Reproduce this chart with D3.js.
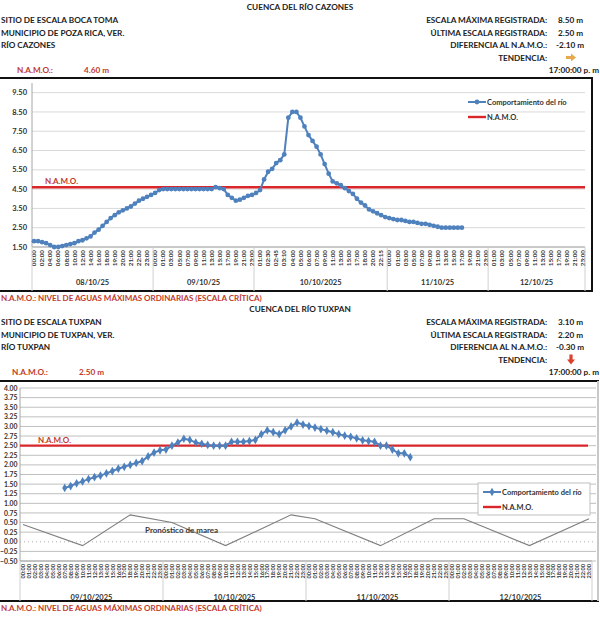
<!DOCTYPE html>
<html>
<head>
<meta charset="utf-8">
<script src="https://cdn.jsdelivr.net/npm/d3@7"></script>
<style>
    body { margin: 0; background: #fff; overflow: hidden; }
    svg { display: block; font-family: Lato, "Open Sans", sans-serif; }
    .hd { font-size: 8.2px; font-weight: bold; fill: #222; }
    .tick-y { font-size: 7.5px; font-weight: bold; fill: #333; }
    .tick-x { font-size: 6.3px; font-weight: bold; fill: #333; }
    .day { font-size: 7.5px; font-weight: bold; fill: #333; }
    .legend { font-size: 7.5px; font-weight: bold; fill: #333; }
    .note { font-size: 8px; font-weight: bold; fill: #c0392b; }
</style>
</head>
<body>
<div id="chart"></div>
<script>
// ---- Cuenca del río Cazones (Boca Toma) ----
var cazonesTitle = 'CUENCA DEL RÍO CAZONES';
var cazonesSite = ['SITIO DE ESCALA BOCA TOMA', 'MUNICIPIO DE POZA RICA, VER.', 'RÍO CAZONES'];
var cazonesStats = ['8.50 m', '2.50 m', '-2.10 m'];
var cazonesNamo = 4.60;
var cazonesDays = ['08/10/25', '09/10/25', '10/10/2025', '11/10/25', '12/10/25'];
var cazonesTimes = [
    ['00:00', '01:00', '02:00', '03:00', '04:00', '05:00', '06:00', '07:00', '08:00', '09:00', '10:00', '11:00',
     '12:00', '13:00', '14:00', '15:00', '16:00', '17:00', '18:00', '18:30', '19:00', '19:30', '20:00', '20:30',
     '21:00', '21:30', '22:00', '22:30', '23:00', '23:30'],
    ['00:00', '00:30', '01:00', '02:00', '03:00', '04:00', '05:00', '06:00', '07:00', '08:00', '09:00', '10:00',
     '11:00', '12:00', '13:00', '14:00', '15:00', '16:00', '17:00', '18:00', '19:00', '20:00', '21:00', '22:00', '23:00'],
    ['00:00', '01:00', '02:00', '02:30', '02:40', '02:45', '03:00', '03:10', '03:30', '04:00', '04:30', '05:00',
     '05:30', '06:00', '06:30', '07:00', '08:00', '09:00', '10:00', '11:00', '12:00', '13:00', '14:00', '15:00',
     '16:00', '17:00', '17:30', '18:00', '19:00', '20:00', '21:00', '22:15', '23:00'],
    ['00:00', '00:30', '01:00', '02:00', '03:00', '04:00', '05:00', '06:00', '07:00', '08:00', '09:00', '10:00',
     '11:00', '12:00', '13:00', '14:00', '15:00', '16:00', '17:00', '18:00', '19:00', '20:00', '21:00', '22:00', '23:00'],
    ['00:00', '01:00', '02:00', '03:00', '04:00', '05:00', '06:00', '07:00', '08:00', '09:00', '10:00', '11:00',
     '12:00', '13:00', '14:00', '15:00', '16:00', '17:00', '18:00', '19:00', '20:00', '21:00', '22:00', '23:00']
];
var cazonesLevels = [
    1.80, 1.80, 1.75, 1.70, 1.60, 1.50, 1.50, 1.55, 1.60, 1.65, 1.70, 1.80, 1.85, 1.95, 2.05, 2.25,
    2.40, 2.60, 2.80, 3.00, 3.15, 3.30, 3.40, 3.50, 3.60, 3.75, 3.90, 4.00, 4.10, 4.20, 4.30, 4.45,
    4.50, 4.50, 4.50, 4.50, 4.50, 4.50, 4.50, 4.50, 4.50, 4.50, 4.50, 4.50, 4.50, 4.60, 4.55, 4.50,
    4.20, 4.05, 3.90, 3.95, 4.05, 4.15, 4.20, 4.30, 4.45, 5.00, 5.40, 5.55, 5.85, 6.00, 6.30, 8.20,
    8.50, 8.50, 8.20, 7.75, 7.30, 7.00, 6.70, 6.30, 5.80, 5.30, 4.90, 4.80, 4.70, 4.55, 4.40, 4.25,
    4.00, 3.80, 3.65, 3.45, 3.35, 3.25, 3.15, 3.05, 3.00, 2.95, 2.90, 2.90, 2.85, 2.80, 2.80, 2.75,
    2.70, 2.70, 2.65, 2.60, 2.55, 2.50, 2.50, 2.50, 2.50, 2.50, 2.50
];
var cazonesTicks = [1.50, 2.50, 3.50, 4.50, 5.50, 6.50, 7.50, 8.50, 9.50];

// ---- Cuenca del río Tuxpan ----
var tuxpanTitle = 'CUENCA DEL RÍO TUXPAN';
var tuxpanSite = ['SITIO DE ESCALA TUXPAN', 'MUNICIPIO DE TUXPAN, VER.', 'RÍO TUXPAN'];
var tuxpanStats = ['3.10 m', '2.20 m', '-0.30 m'];
var tuxpanNamo = 2.50;
var tuxpanDays = ['09/10/2025', '10/10/2025', '11/10/2025', '12/10/2025'];
var tuxpanHours = ['00:00', '01:00', '02:00', '03:00', '04:00', '05:00', '06:00', '07:00', '08:00', '09:00',
    '10:00', '11:00', '12:00', '13:00', '14:00', '15:00', '16:00', '17:00', '18:00', '19:00', '20:00',
    '21:00', '22:00', '23:00'];
var tuxpanLevels = [
    null, null, null, null, null, null, null, 1.40, 1.45, 1.52, 1.57, 1.63, 1.68, 1.72, 1.78, 1.84,
    1.90, 1.95, 2.00, 2.05, 2.10, 2.22, 2.32, 2.38, 2.40, 2.50, 2.58, 2.68, 2.65, 2.58, 2.55, 2.52,
    2.50, 2.50, 2.50, 2.60, 2.60, 2.60, 2.62, 2.65, 2.80, 2.90, 2.85, 2.80, 2.90, 3.00, 3.10, 3.05,
    3.01, 2.97, 2.93, 2.89, 2.85, 2.80, 2.76, 2.73, 2.69, 2.64, 2.62, 2.60, 2.50, 2.50, 2.40, 2.30,
    2.30, 2.20
];
var tideAt = ['09/10/2025 00:00', '09/10/2025 10:00', '09/10/2025 18:00', '10/10/2025 01:00',
    '10/10/2025 10:00', '10/10/2025 21:00', '11/10/2025 01:00', '11/10/2025 12:00', '11/10/2025 21:00',
    '12/10/2025 02:00', '12/10/2025 13:00', '12/10/2025 23:00'];
var tideLevels = [0.45, -0.10, 0.70, 0.50, -0.10, 0.70, 0.60, -0.10, 0.60, 0.60, -0.10, 0.60];
var tuxpanTicks = [-0.50, -0.25, 0.00, 0.25, 0.50, 0.75, 1.00, 1.25, 1.50, 1.75, 2.00, 2.25, 2.50,
    2.75, 3.00, 3.25, 3.50, 3.75, 4.00];

var statLabels = ['ESCALA MÁXIMA REGISTRADA:', 'ÚLTIMA ESCALA REGISTRADA:', 'DIFERENCIA AL N.A.M.O.:'];
var noteText = 'N.A.M.O.: NIVEL DE AGUAS MÁXIMAS ORDINARIAS (ESCALA CRÍTICA)';

(function () {
    "use strict";

    var blue = '#4f81bd';
    var red = '#d9262b';
    var darkRed = '#c0392b';
    var fmt = d3.format('.2f');

    var svg = d3.select('#chart').append('svg')
        .attr('width', 600)
        .attr('height', 633);

    function drawHeader(g, cfg) {
        var top = cfg.top;
        g.append('text').attr('class', 'hd')
            .attr('x', 300).attr('y', top + 10)
            .attr('text-anchor', 'middle')
            .text(cfg.title);

        cfg.site.forEach(function (t, i) {
            g.append('text').attr('class', 'hd')
                .attr('x', cfg.leftX).attr('y', top + 23 + i * 12.5)
                .text(t);
        });

        statLabels.forEach(function (t, i) {
            var y = top + 23 + i * 12.5;
            g.append('text').attr('class', 'hd')
                .attr('x', 547).attr('y', y)
                .attr('text-anchor', 'end')
                .text(t);
            g.append('text').attr('class', 'hd')
                .attr('x', cfg.statX[i]).attr('y', y)
                .text(cfg.stats[i]);
        });

        var ty = top + 23 + 3 * 12.5;
        g.append('text').attr('class', 'hd')
            .attr('x', 547).attr('y', ty)
            .attr('text-anchor', 'end')
            .text('TENDENCIA:');
        var arrow = g.append('g').attr('transform', 'translate(571,' + (ty - 3) + ')');
        if (cfg.trend === 'right') {
            arrow.append('path').attr('d', 'M-5,-1.5 L0,-1.5 L0,-4 L5,0 L0,4 L0,1.5 L-5,1.5 Z')
                .attr('fill', '#e7a94b');
        } else {
            arrow.append('path').attr('d', 'M-1.6,-5 L1.6,-5 L1.6,0 L4,0 L0,5 L-4,0 L-1.6,0 Z')
                .attr('fill', '#d9412b');
        }

        var ny = top + 23 + 4 * 12.5;
        g.append('text').attr('class', 'hd')
            .attr('x', cfg.namoX).attr('y', ny)
            .style('fill', darkRed)
            .text('N.A.M.O.:');
        g.append('text').attr('class', 'hd')
            .attr('x', cfg.namoX + 67).attr('y', ny)
            .style('fill', darkRed)
            .text(fmt(cfg.namo) + ' m');
        g.append('text').attr('class', 'hd')
            .attr('x', 599).attr('y', ny)
            .attr('text-anchor', 'end')
            .text('17:00:00 p. m');
    }

    function drawPlot(g, cfg) {
        var cats = [];
        cfg.days.forEach(function (d, di) {
            cfg.times[di].forEach(function (t) {
                cats.push({ day: d, time: t, key: d + ' ' + t });
            });
        });

        var x = d3.scaleBand()
            .domain(cats.map(function (c) { return c.key; }))
            .range([cfg.x0, cfg.x1]);
        var cx = function (key) { return x(key) + x.bandwidth() / 2; };
        var y = d3.scaleLinear()
            .domain(cfg.yDomain)
            .range([cfg.yBottom, cfg.yTop]);

        // frame
        g.append('line')
            .attr('x1', -5).attr('x2', cfg.frameRight + 1)
            .attr('y1', cfg.frameTop).attr('y2', cfg.frameTop)
            .attr('stroke', '#111').attr('stroke-width', 2);
        g.append('line')
            .attr('x1', -5).attr('x2', cfg.frameRight + 1)
            .attr('y1', cfg.frameBottom).attr('y2', cfg.frameBottom)
            .attr('stroke', '#111').attr('stroke-width', 2);
        g.append('line')
            .attr('x1', cfg.frameRight).attr('x2', cfg.frameRight)
            .attr('y1', cfg.frameTop).attr('y2', cfg.frameBottom)
            .attr('stroke', cfg.frameRightColor).attr('stroke-width', 2);

        // grid
        g.append('g').selectAll('line')
            .data(cfg.ticks)
            .enter().append('line')
            .attr('x1', cfg.x0).attr('x2', cfg.gridEnd)
            .attr('y1', function (d) { return y(d); })
            .attr('y2', function (d) { return y(d); })
            .attr('stroke', function (d) { return d === 0 ? '#c8c8c8' : cfg.gridColor; })
            .attr('stroke-width', function (d) { return d === 0 ? 1.6 : 1; })
            .attr('stroke-dasharray', function (d) { return d === 0 ? '1,3' : null; });

        g.append('g').selectAll('text')
            .data(cfg.ticks)
            .enter().append('text')
            .attr('class', 'tick-y')
            .attr('x', cfg.x0 - cfg.tickGap)
            .attr('y', function (d) { return y(d) + 2.6; })
            .attr('text-anchor', 'end')
            .style('font-size', cfg.yFont + 'px')
            .text(function (d) { return fmt(d); });

        // axes
        g.append('line')
            .attr('x1', cfg.x0).attr('x2', cfg.x0)
            .attr('y1', cfg.axisTop).attr('y2', cfg.yBottom)
            .attr('stroke', '#a6a6a6');
        g.append('line')
            .attr('x1', cfg.x0).attr('x2', cfg.x1)
            .attr('y1', cfg.yBottom).attr('y2', cfg.yBottom)
            .attr('stroke', '#a6a6a6');

        // category labels
        g.append('g').selectAll('text')
            .data(cats.filter(function (c, i) { return i % cfg.labelEvery === 0; }))
            .enter().append('text')
            .attr('class', 'tick-x')
            .attr('transform', function (c) {
                return 'translate(' + (cx(c.key) + 2.2) + ',' + (cfg.yBottom + 3) + ') rotate(-90)';
            })
            .attr('text-anchor', 'end')
            .style('font-size', cfg.xFont + 'px')
            .text(function (c) { return c.time; });

        // day groups
        var bounds = cfg.days.map(function (d, di) {
            return x(d + ' ' + cfg.times[di][0]);
        });
        bounds.push(cfg.x1);
        g.append('g').selectAll('line')
            .data(bounds)
            .enter().append('line')
            .attr('x1', function (b) { return b; })
            .attr('x2', function (b) { return b; })
            .attr('y1', cfg.yBottom).attr('y2', cfg.frameBottom)
            .attr('stroke', '#d0d0d0');
        g.append('g').selectAll('text')
            .data(cfg.days)
            .enter().append('text')
            .attr('class', 'day')
            .attr('x', function (d, i) { return (bounds[i] + bounds[i + 1]) / 2; })
            .attr('y', cfg.dayY)
            .attr('text-anchor', 'middle')
            .text(function (d) { return d; });

        // tide forecast
        if (cfg.tideAt) {
            g.append('path')
                .datum(cfg.tideAt.map(function (k, i) { return [cx(k), y(cfg.tide[i])]; }))
                .attr('d', d3.line())
                .attr('fill', 'none')
                .attr('stroke', '#7f7f7f')
                .attr('stroke-width', 1.1);
            g.append('text')
                .attr('x', 145).attr('y', y(0.22))
                .style('font-size', '8px').style('font-weight', 'bold').style('fill', '#3a3a3a')
                .text('Pronóstico de marea');
        }

        // N.A.M.O.
        g.append('line')
            .attr('x1', cfg.x0).attr('x2', cfg.namoEnd)
            .attr('y1', y(cfg.namo)).attr('y2', y(cfg.namo))
            .attr('stroke', red).attr('stroke-width', 2.4);
        g.append('text')
            .attr('x', cfg.namoLabelX).attr('y', y(cfg.namo) - 3)
            .style('font-size', '8px').style('font-weight', 'bold').style('fill', darkRed)
            .text('N.A.M.O.');

        // river level
        var pts = cfg.levels.map(function (v, i) { return { key: cats[i].key, v: v }; })
            .filter(function (p) { return p.v !== null; });
        g.append('path')
            .datum(pts)
            .attr('d', d3.line()
                .x(function (p) { return cx(p.key); })
                .y(function (p) { return y(p.v); }))
            .attr('fill', 'none')
            .attr('stroke', blue)
            .attr('stroke-width', 2);
        var sym = d3.symbol().type(cfg.marker).size(cfg.markerSize);
        g.append('g').selectAll('path')
            .data(pts)
            .enter().append('path')
            .attr('transform', function (p) { return 'translate(' + cx(p.key) + ',' + y(p.v) + ')'; })
            .attr('d', sym)
            .attr('fill', blue);

        // legend
        var lg = g.append('g').attr('transform', 'translate(' + cfg.legend[0] + ',' + cfg.legend[1] + ')');
        if (cfg.legendBox) {
            lg.append('rect')
                .attr('x', -5).attr('y', -9)
                .attr('width', 112).attr('height', 32)
                .attr('fill', '#fff').attr('stroke', '#bfbfbf');
        }
        lg.append('line').attr('x1', 0).attr('x2', 18).attr('y1', 0).attr('y2', 0)
            .attr('stroke', blue).attr('stroke-width', 2);
        lg.append('path').attr('transform', 'translate(9,0)').attr('d', sym).attr('fill', blue);
        lg.append('text').attr('class', 'legend').attr('x', 19).attr('y', 2.6).text('Comportamiento del río');
        lg.append('line').attr('x1', 0).attr('x2', 18).attr('y1', 15).attr('y2', 15)
            .attr('stroke', red).attr('stroke-width', 2.4);
        lg.append('text').attr('class', 'legend').attr('x', 19).attr('y', 17.6).text('N.A.M.O.');

        // footnote
        g.append('text').attr('class', 'note')
            .attr('x', cfg.noteX).attr('y', cfg.frameBottom + 10)
            .text(noteText);
    }

    var top = svg.append('g');
    drawHeader(top, {
        top: 0, title: cazonesTitle, site: cazonesSite, leftX: 1,
        stats: cazonesStats, statX: [558, 558, 556], trend: 'right',
        namo: cazonesNamo, namoX: 17
    });
    drawPlot(top, {
        days: cazonesDays, times: cazonesTimes, levels: cazonesLevels,
        ticks: cazonesTicks, yDomain: [1.5, 10], namo: cazonesNamo,
        x0: 32, x1: 585, gridEnd: 585, namoEnd: 585,
        yTop: 83, yBottom: 247, axisTop: 83,
        frameTop: 78, frameBottom: 291, frameRight: 592, frameRightColor: '#111',
        gridColor: '#d9d9d9', labelEvery: 2, xFont: 6.3, yFont: 7.5, tickGap: 5, dayY: 285,
        namoLabelX: 45, marker: d3.symbolCircle, markerSize: 18,
        legend: [468, 102], legendBox: false, noteX: 1
    });

    var bottom = svg.append('g');
    drawHeader(bottom, {
        top: 302, title: tuxpanTitle, site: tuxpanSite, leftX: 1,
        stats: tuxpanStats, statX: [558, 558, 556], trend: 'down',
        namo: tuxpanNamo, namoX: 12
    });
    drawPlot(bottom, {
        days: tuxpanDays, times: tuxpanDays.map(function () { return tuxpanHours; }),
        levels: tuxpanLevels, tideAt: tideAt, tide: tideLevels,
        ticks: tuxpanTicks, yDomain: [-0.5, 4], namo: tuxpanNamo,
        x0: 20, x1: 592, gridEnd: 596, namoEnd: 588,
        yTop: 388, yBottom: 561, axisTop: 388,
        frameTop: 381, frameBottom: 601, frameRight: 598, frameRightColor: '#c8c8c8',
        gridColor: '#bfbfbf', labelEvery: 1, xFont: 5.6, yFont: 6.8, tickGap: 2.5, dayY: 600,
        namoLabelX: 38, marker: d3.symbolDiamond, markerSize: 22,
        legend: [483, 492], legendBox: true, noteX: 1
    });
})();
</script>
</body>
</html>
